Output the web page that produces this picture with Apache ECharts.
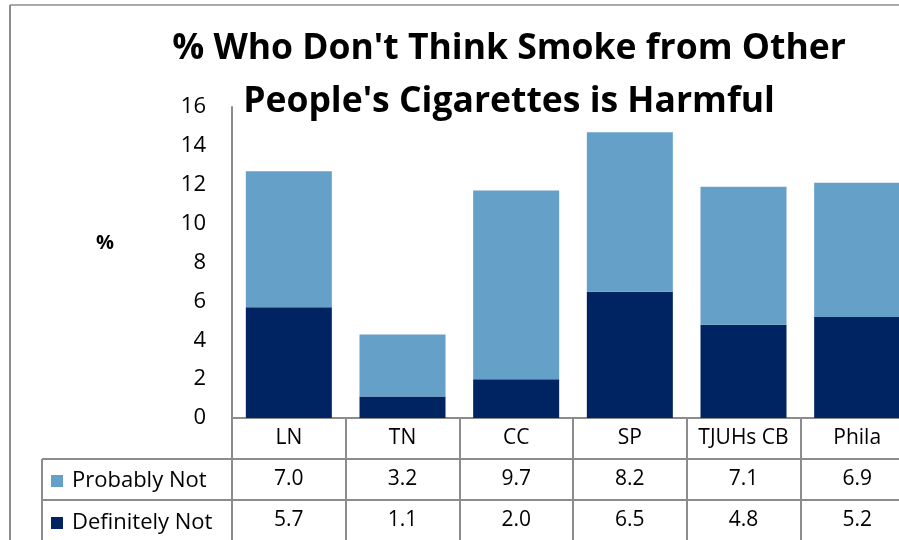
<!DOCTYPE html>
<html>
<head>
<meta charset="utf-8">
<title>Secondhand smoke</title>
<script src="https://cdn.jsdelivr.net/npm/echarts@6/dist/echarts.min.js"></script>
<style>
    html, body { margin: 0; padding: 0; background: #fff; }
    #chart { width: 899px; height: 540px; }
</style>
</head>
<body>
<div id="chart"></div>
<script>
// chart values
const categories = ['LN', 'TN', 'CC', 'SP', 'TJUHs CB', 'Phila'];
const probablyNot = [7.0, 3.2, 9.7, 8.2, 7.1, 6.9];
const definitelyNot = [5.7, 1.1, 2.0, 6.5, 4.8, 5.2];
const yTicks = { min: 0, max: 16, step: 2 };

const FONT = '"Open Sans", "Noto Sans", sans-serif';
const LINE = '#8c8c8c';
const ROW_H = 41;

const chart = echarts.init(document.getElementById('chart'), null, { renderer: 'canvas' });

// x axis rows double as the data table under the plot
function tableAxis(idx, fmt) {
    return {
        type: 'category',
        data: categories,
        position: 'bottom',
        offset: idx * ROW_H,
        axisLine: { show: true, lineStyle: { color: LINE, width: 2 } },
        axisTick: { show: true, interval: 0, length: ROW_H, lineStyle: { color: LINE, width: 2 } },
        axisLabel: {
            interval: 0, margin: 10, fontSize: 21, color: '#000', fontFamily: FONT,
            formatter: fmt
        },
        splitLine: { show: false }
    };
}

chart.setOption({
    backgroundColor: '#fff',
    animation: false,
    textStyle: { fontFamily: FONT },
    title: [
        {
            text: "% Who Don't Think Smoke from Other\nPeople's Cigarettes is Harmful",
            left: 504, top: 17, textAlign: 'center',
            textStyle: { fontSize: 35.5, fontWeight: 'bold', color: '#000', lineHeight: 53, fontFamily: FONT }
        },
        {
            text: '%', left: 91, top: 228,
            textStyle: { fontSize: 20, fontWeight: 'bold', color: '#000', fontFamily: FONT }
        }
    ],
    legend: {
        orient: 'vertical', left: 46, top: 465, padding: 5,
        data: ['Probably Not', 'Definitely Not'],
        icon: 'rect', itemWidth: 12, itemHeight: 12, itemGap: 20,
        textStyle: { fontSize: 22, color: '#000', fontFamily: FONT, padding: [0, 0, 0, 4] }
    },
    grid: { left: 232, top: 107, width: 682, height: 311, outerBoundsMode: 'none' },
    xAxis: [
        tableAxis(0, v => v),
        tableAxis(1, (v, i) => probablyNot[i].toFixed(1)),
        tableAxis(2, (v, i) => definitelyNot[i].toFixed(1))
    ],
    yAxis: {
        type: 'value', min: yTicks.min, max: yTicks.max, interval: yTicks.step,
        axisLine: { show: true, lineStyle: { color: LINE, width: 2 } },
        axisTick: { show: false },
        splitLine: { show: false },
        axisLabel: { fontSize: 22, color: '#000', margin: 26, fontFamily: FONT }
    },
    series: [
        {
            name: 'Definitely Not', type: 'bar', stack: 'total', data: definitelyNot,
            barWidth: 86, itemStyle: { color: '#002361' }
        },
        {
            name: 'Probably Not', type: 'bar', stack: 'total', data: probablyNot,
            barWidth: 86, itemStyle: { color: '#65a0c9' }
        }
    ],
    graphic: [
        // outer frame
        { type: 'line', shape: { x1: 10, y1: 5, x2: 899, y2: 5 }, style: { stroke: LINE, lineWidth: 1.5 } },
        { type: 'line', shape: { x1: 10, y1: 5, x2: 10, y2: 540 }, style: { stroke: LINE, lineWidth: 2 } },
        // row header cells of the data table
        { type: 'line', shape: { x1: 42, y1: 459, x2: 232, y2: 459 }, style: { stroke: LINE, lineWidth: 2 } },
        { type: 'line', shape: { x1: 42, y1: 500, x2: 232, y2: 500 }, style: { stroke: LINE, lineWidth: 2 } },
        { type: 'line', shape: { x1: 42, y1: 459, x2: 42, y2: 540 }, style: { stroke: LINE, lineWidth: 2 } }
    ]
});
</script>
</body>
</html>
